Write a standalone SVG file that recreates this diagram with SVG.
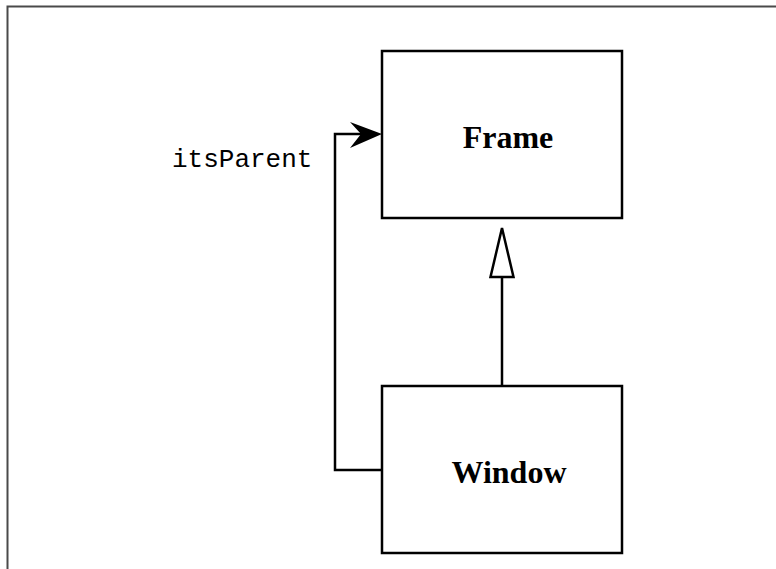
<svg xmlns="http://www.w3.org/2000/svg" width="776" height="569" viewBox="0 0 776 569">
  <style>
    .box { fill: #ffffff; stroke: #000000; stroke-width: 2.5; }
    .name { font-family: "Liberation Serif", "Times New Roman", serif; font-weight: bold; font-size: 32px; text-anchor: middle; fill: #000000; }
    .role { font-family: "Liberation Mono", "Courier New", monospace; font-size: 26px; fill: #000000; }
    .line { fill: none; stroke: #000000; stroke-width: 2.5; }
  </style>
  <rect width="776" height="569" fill="#ffffff"/>
  <!-- page frame -->
  <path d="M7.5,569 V6.5 H776" fill="none" stroke="#4a4a4a" stroke-width="2"/>

  <g id="connectors">
    <!-- generalization: Window -> Frame -->
    <line class="line" x1="502" y1="386" x2="502" y2="277"/>
    <polygon points="502,228 490.5,277 513.5,277" fill="#ffffff" stroke="#000000" stroke-width="2.5" stroke-linejoin="miter"/>
    <!-- association: Window -> Frame (itsParent) -->
    <polyline class="line" points="382,470 335,470 335,134 370,134"/>
    <path d="M382,134 L350,122 L361,134 L350,148 Z" fill="#000000"/>
    <text class="role" x="172" y="167">itsParent</text>
  </g>

  <g id="frame">
    <rect class="box" x="382" y="51" width="240" height="167"/>
    <text class="name" x="508" y="148">Frame</text>
  </g>

  <g id="window">
    <rect class="box" x="382" y="386" width="240" height="167"/>
    <text class="name" x="509" y="483">Window</text>
  </g>
</svg>
